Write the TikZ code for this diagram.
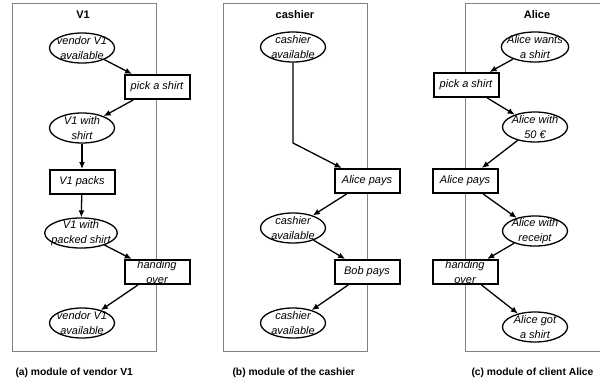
\documentclass[tikz,border=0pt]{standalone}
\usepackage{fontspec}
\setmainfont{Liberation Sans}
\usetikzlibrary{arrows.meta,shapes.geometric}
\tikzset{
    place/.style={draw, fill=white, line width=1.3pt, ellipse, minimum width=65pt, minimum height=30pt, inner xsep=-4pt, inner ysep=-2pt, align=center, font=\itshape\fontsize{11}{15}\selectfont},
    trans/.style={draw, fill=white, line width=2pt, rectangle, minimum width=65pt, minimum height=24pt, inner xsep=2pt, inner ysep=-3pt, align=center, font=\itshape\fontsize{11}{15}\selectfont},
    module/.style={draw=gray, line width=0.9pt},
    title/.style={font=\bfseries\fontsize{11}{12}\selectfont},
    caption/.style={anchor=west, font=\bfseries\fontsize{10.3}{12}\selectfont},
    flow/.style={-{Latex[length=7pt,width=6pt]}, line width=1.3pt}
}
\begin{document}
\begin{tikzpicture}[x=1pt, y=-1pt]
        \useasboundingbox (0,0) rectangle (600,388);
        \draw[module] (12,3) rectangle (156,351);
        \draw[module] (223,3) rectangle (367,351);
        \draw[module] (610,3) -- (465,3) -- (465,351) -- (610,351);

        \node[title] (ta) at (83,15) {V1};
        \node[place] (a1) at (82,48) {vendor V1\\available};
        \node[trans] (a2) at (157,87) {pick a shirt};
        \node[place] (a3) at (82,128) {V1 with\\shirt};
        \node[trans] (a4) at (82,182) {V1 packs};
        \node[place] (a5) at (81,233) {V1 with\\packed shirt};
        \node[trans] (a6) at (157,272) {handing\\over};
        \node[place] (a7) at (82,323) {vendor V1\\available};
        \draw[flow] (a1) -- (a2);
        \draw[flow] (a2) -- (a3);
        \draw[flow] (a3) -- (a4);
        \draw[flow] (a4) -- (a5);
        \draw[flow] (a5) -- (a6);
        \draw[flow] (a6) -- (a7);

        \node[title] (tb) at (295,15) {cashier};
        \node[place] (b1) at (293,47) {cashier\\available};
        \coordinate (bend) at (293,143);
        \node[trans] (b2) at (367,181) {Alice pays};
        \node[place] (b3) at (293,228) {cashier\\available};
        \node[trans] (b4) at (367,272) {Bob pays};
        \node[place] (b5) at (293,323) {cashier\\available};
        \draw[flow] (b1) -- (bend) -- (b2);
        \draw[flow] (b2) -- (b3);
        \draw[flow] (b3) -- (b4);
        \draw[flow] (b4) -- (b5);

        \node[title] (tc) at (537,15) {Alice};
        \node[place] (c1) at (535,47) {Alice wants\\a shirt};
        \node[trans] (c2) at (466,85) {pick a shirt};
        \node[place] (c3) at (535,127) {Alice with\\50 €};
        \node[trans] (c4) at (465,181) {Alice pays};
        \node[place] (c5) at (535,231) {Alice with\\receipt};
        \node[trans] (c6) at (465,272) {handing\\over};
        \node[place] (c7) at (535,327) {Alice got\\a shirt};
        \draw[flow] (c1) -- (c2);
        \draw[flow] (c2) -- (c3);
        \draw[flow] (c3) -- (c4);
        \draw[flow] (c4) -- (c5);
        \draw[flow] (c5) -- (c6);
        \draw[flow] (c6) -- (c7);

        \node[caption] (capa) at (12,373) {(a) module of vendor V1};
        \node[caption] (capb) at (229,373) {(b) module of the cashier};
        \node[caption] (capc) at (468,373) {(c) module of client Alice};
    \end{tikzpicture}
\end{document}
